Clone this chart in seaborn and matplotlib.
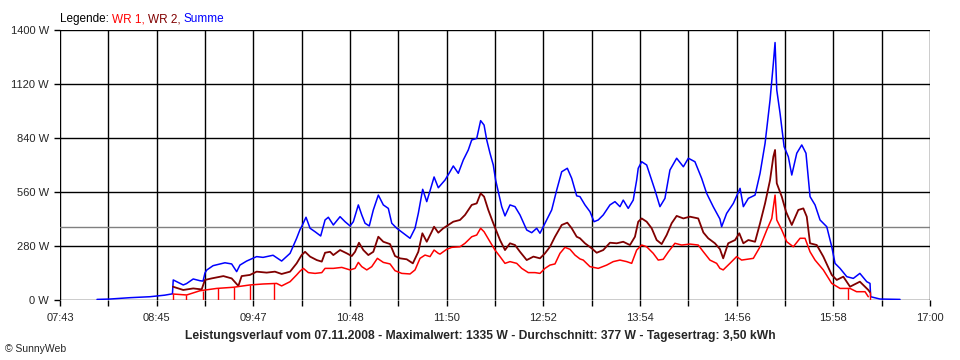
import matplotlib
matplotlib.use('Agg')
import numpy as np
import pandas as pd
import matplotlib.pyplot as plt
import seaborn as sns

# Zeit in Minuten seit Mitternacht, Leistung in W
summe_min = [486.7, 495, 507.8, 520.6, 530, 535, 535.5, 541.9, 544, 548.3, 552.6, 554.6, 555.8, 556.9,
             561, 568.6, 572.9, 576.1, 578.2, 582.5, 588.9, 593, 599.4, 604.9, 610.3, 614.5, 616.7,
             617.7, 620.5, 623.1, 626.3, 629.9, 632.7, 634.8, 638, 642.3, 645.5, 648.7, 650.8, 654,
             656.2, 658.3, 661, 663.6, 666.8, 670, 673.2, 675.4, 678.6, 682.8, 687.1, 690.3, 692.4,
             695.2, 697.8, 699.9, 702.5, 705.2, 709.5, 712.7, 714.8, 718, 721.2, 724.4, 726.6, 729.8,
             732.3, 734.5, 736.2, 738.3, 740.4, 741.9, 743.6, 745.8, 747.9, 751.1, 754.3, 757.5, 761.8,
             765, 768.2, 770.3, 773.5, 777.8, 781, 784.2, 787.8, 790.6, 793.8, 795.9, 799.1, 802.3,
             804.9, 807.6, 810.8, 815.1, 818.3, 821.5, 823.6, 826.8, 830, 832.2, 833.2, 835.4, 838.6,
             840.7, 843.9, 847.1, 850.3, 853.5, 857.8, 862.1, 865.3, 869.5, 873.8, 877, 881.2, 885.5,
             886.6, 889.8, 894.1, 898.4, 900.5, 903.7, 908, 911.2, 914.4, 917.6, 919.7, 920.8, 921.9,
             924, 926.6, 929.3, 931.5, 934.7, 937.9, 940.6, 943.2, 946.4, 949.6, 953.9, 957.1, 959.2,
             962.4, 966.7, 970.9, 975.1, 979.5, 981.6, 982, 988, 1000.8]
summe_w = [3, 5, 12, 17, 25, 32, 104, 78, 85, 109, 100, 98, 140, 155,
           178, 193, 187, 147, 181, 202, 225, 221, 232, 202, 242, 320, 366,
           380, 429, 372, 354, 332, 415, 429, 389, 432, 406, 384, 406, 493,
           441, 398, 384, 467, 544, 493, 475, 398, 372, 346, 320, 372, 449,
           574, 510, 566, 638, 582, 622, 665, 695, 657, 726, 778, 830, 838,
           930, 907, 830, 761, 700, 622, 562, 484, 436, 493, 484, 441, 363,
           349, 372, 346, 398, 467, 570, 665, 683, 631, 540, 536, 493, 458,
           406, 415, 441, 493, 510, 484, 518, 475, 518, 622, 683, 717, 700,
           648, 570, 484, 527, 674, 735, 691, 735, 717, 631, 553, 484, 420,
           380, 449, 501, 579, 484, 527, 544, 657, 812, 1037, 1227, 1335, 1089,
           968, 795, 743, 648, 761, 804, 761, 536, 493, 415, 380, 276, 190,
           164, 121, 112, 138, 95, 86, 17, 5, 3]

wr2_min = [535.3, 541.9, 548.3, 553.7, 555.8, 560.1, 567.6, 572.9, 577.2, 579.3, 584.6, 588.9, 595.3,
           600.6, 604.9, 610.3, 614.5, 617.7, 619.9, 623.1, 627.4, 630.6, 632.7, 635.9, 638, 642.3,
           646.6, 649.8, 651.9, 654.4, 657.2, 660.4, 663.6, 666.8, 670, 674.3, 677.5, 680.7, 685,
           688.9, 692.4, 695, 697.8, 701, 702.5, 705.2, 708.4, 711.6, 714.8, 719.1, 722.3, 726.6,
           729.8, 732.3, 734.5, 737.2, 740.4, 742.6, 744.7, 747.9, 751.1, 754.3, 757.5, 761.8, 766.1,
           770.3, 773.5, 776.7, 779.9, 784.2, 787.8, 790.6, 793.8, 795.9, 799.1, 803.4, 806.6, 810.8,
           815.1, 819.4, 823.6, 827.9, 831.1, 833.2, 835.4, 838.6, 841.8, 845, 848.2, 851.4, 854.6,
           857.8, 862.1, 866.3, 871.6, 874.9, 878, 882.3, 885.5, 887.6, 890.8, 895.2, 897.9, 900.5,
           903.7, 908, 911.2, 914.4, 917.6, 919.7, 920.8, 921.9, 925.1, 927.8, 931.5, 935.7, 938.9,
           941.1, 943.2, 947.5, 951.7, 957.1, 960.3, 964.5, 968.8, 975.1, 980.5, 981.6]
wr2_w = [69, 52, 60, 55, 104, 112, 124, 112, 73, 124, 130, 147, 142,
         147, 135, 147, 190, 233, 250, 225, 207, 199, 245, 250, 233, 259,
         242, 228, 250, 297, 259, 233, 250, 328, 302, 290, 228, 216, 211,
         190, 250, 346, 302, 354, 380, 349, 372, 389, 406, 415, 441, 493,
         501, 553, 536, 467, 398, 354, 311, 259, 294, 285, 250, 207, 225,
         216, 242, 276, 328, 389, 401, 372, 328, 320, 294, 268, 245, 259,
         297, 294, 302, 285, 328, 406, 423, 406, 372, 311, 290, 337, 398,
         436, 423, 432, 423, 350, 320, 294, 264, 216, 294, 311, 346, 294,
         311, 302, 398, 501, 622, 743, 778, 605, 536, 458, 389, 467, 475,
         432, 294, 285, 225, 130, 104, 121, 69, 95, 52, 40]

wr1_min = [535.3, 544.1, 552.6, 563.3, 574, 584.6, 593, 601.7, 604.9, 610.3, 614.5, 616.7, 618.8, 622,
           626.3, 630.6, 632.7, 638, 643.4, 648.7, 651.9, 654, 656.2, 659.4, 662.6, 666.2, 670,
           674.3, 677.5, 681.8, 687.1, 690.3, 693.5, 696.7, 699.9, 702.5, 705.2, 706.3, 710.6, 713.8,
           719.1, 722.3, 726.6, 729.8, 732.3, 734.5, 738.3, 741.5, 744.7, 747.9, 751.1, 755.4, 758.6,
           762.8, 767.1, 770.3, 773.5, 776.7, 779.9, 783.1, 786.3, 789.5, 792.7, 795.9, 798, 802.3,
           807.6, 813, 817.2, 821.5, 825.8, 829, 832.2, 835.4, 838.6, 842.8, 846, 849.2, 852.5,
           856.7, 861, 866.3, 871.6, 874.9, 879.1, 883.4, 885.5, 887.6, 891.9, 896.2, 899.4, 906.9,
           911.2, 915.5, 918.7, 920.8, 921.9, 925.1, 928.3, 932.5, 936.8, 940, 943.2, 946.4, 951.7,
           957.1, 962.4, 968.8, 973, 978.4, 980.5]
wr1_w = [31, 26, 48, 60, 66, 78, 83, 86, 73, 95, 130, 150, 164, 142,
         138, 142, 164, 164, 169, 156, 164, 195, 173, 156, 173, 216, 195,
         187, 152, 138, 135, 156, 216, 233, 225, 259, 242, 238, 263, 273,
         276, 294, 328, 337, 372, 354, 302, 259, 225, 190, 199, 190, 164,
         142, 142, 138, 164, 181, 187, 242, 273, 263, 233, 213, 207, 173,
         164, 181, 199, 207, 199, 190, 259, 285, 276, 242, 207, 211, 250,
         294, 285, 290, 285, 250, 207, 190, 164, 156, 190, 225, 207, 216,
         276, 363, 423, 544, 415, 363, 302, 276, 320, 320, 250, 207, 156,
         86, 60, 60, 43, 43, 17]

# kurze Einbrueche von WR 1 auf 0 W
wr1_drop_min = [535.3, 543.7, 554.4, 564.3, 574.6, 584.9, 600.2, 967.5, 981.6]
wr1_drop_w = [31, 27, 48, 60, 66, 78, 86, 60, 43]

durchschnitt_w = 377
y_ticks = [0, 280, 560, 840, 1120, 1400]
x_labels = ['07:43', '08:45', '09:47', '10:48', '11:50', '12:52', '13:54', '14:56', '15:58', '17:00']
t_start, t_end = 463, 1020

col_wr1 = '#ff0000'
col_wr2 = '#800000'
col_sum = '#0000ff'

sns.set_style('white')
plt.rcParams['font.family'] = ['Liberation Sans', 'DejaVu Sans']

fig = plt.figure(figsize=(9.6, 3.6), dpi=100)
ax = fig.add_axes([60 / 960, 1 - 300 / 360, 870 / 960, 270 / 360])

# Gitter
grid_x = np.linspace(t_start, t_end, 19)
for gx in grid_x:
    ax.axvline(gx, color='black', lw=1, zorder=1)
for gy in y_ticks:
    ax.axhline(gy, color='black', lw=1, zorder=1)
ax.axhline(durchschnitt_w, color='#808080', lw=1, zorder=1.5)

df_sum = pd.DataFrame({'t': summe_min, 'w': summe_w})
df_wr2 = pd.DataFrame({'t': wr2_min, 'w': wr2_w})
df_wr1 = pd.DataFrame({'t': wr1_min, 'w': wr1_w})

sns.lineplot(data=df_sum, x='t', y='w', ax=ax, color=col_sum, lw=1.1, estimator=None, zorder=3)
sns.lineplot(data=df_wr2, x='t', y='w', ax=ax, color=col_wr2, lw=1.3, estimator=None, zorder=4)
sns.lineplot(data=df_wr1, x='t', y='w', ax=ax, color=col_wr1, lw=1.1, estimator=None, zorder=5)
ax.vlines(wr1_drop_min, 0, wr1_drop_w, color=col_wr1, lw=1, zorder=5)

ax.set_xlim(t_start, t_end)
ax.set_ylim(0, 1400)
ax.set_xticks(grid_x)
ax.set_xticklabels([x_labels[i // 2] if i % 2 == 0 else '' for i in range(len(grid_x))])
ax.set_yticks(y_ticks)
ax.set_yticklabels([f'{v} W' for v in y_ticks])
ax.tick_params(axis='both', direction='out', length=4, width=1, color='black',
               labelsize=8, pad=4, bottom=True, left=True)
ax.tick_params(axis='x', pad=5.5)
ax.set_xlabel('')
ax.set_ylabel('')
for s in ax.spines.values():
    s.set_visible(False)

# Legende oben
t1 = fig.text(60 / 960, 1 - 22 / 360, 'Legende: ', fontsize=8.5, color='black')
t2 = ax.annotate('WR 1, ', xy=(1, 0), xycoords=t1, va='bottom', fontsize=8.5, color=col_wr1)
t3 = ax.annotate('WR 2, ', xy=(1, 0), xycoords=t2, va='bottom', fontsize=8.5, color=col_wr2)
ax.annotate('Summe', xy=(1, 0), xycoords=t3, va='bottom', fontsize=8.5, color=col_sum)

fig.text(0.5, 1 - 336 / 360,
         'Leistungsverlauf vom 07.11.2008 - Maximalwert: 1335 W - Durchschnitt: 377 W - Tagesertrag: 3,50 kWh',
         ha='center', va='center', fontsize=8.7, fontweight='bold')
fig.text(5 / 960, 1 - 349 / 360, '\u00a9 SunnyWeb', ha='left', va='center', fontsize=7.5)

fig.savefig('out.png', dpi=100)
